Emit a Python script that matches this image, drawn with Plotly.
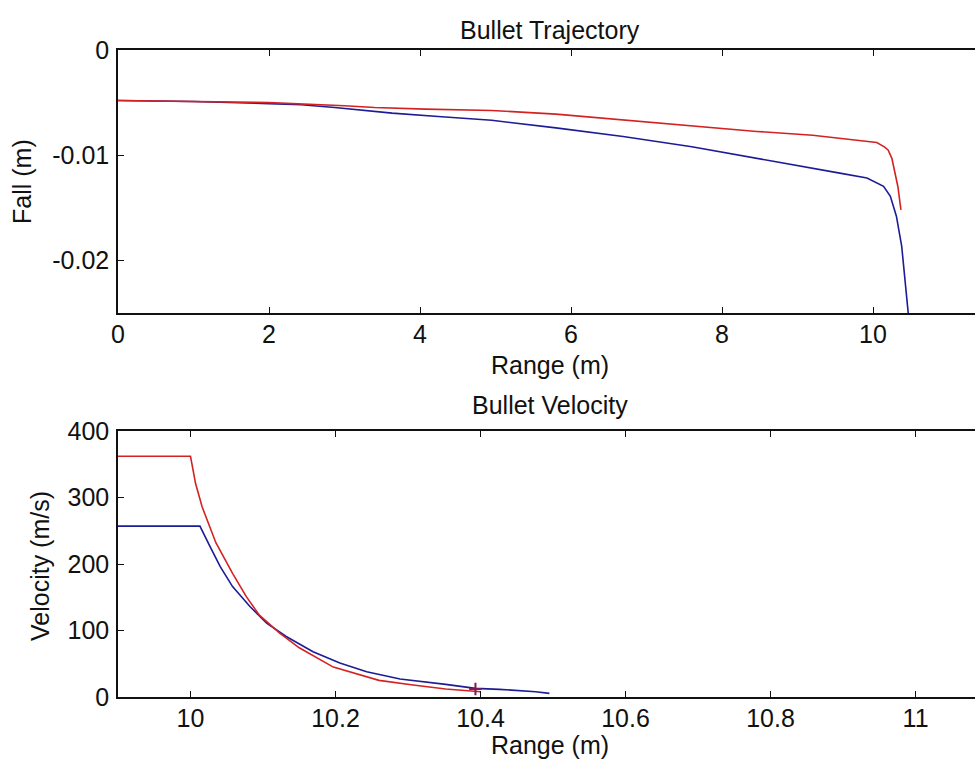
import plotly.graph_objects as go

# ---- Top plot: Bullet Trajectory (Range m vs Fall m) ----
traj_red_x = [0.0, 1.0, 2.0, 3.0, 3.4, 4.07, 4.95, 5.8, 6.69, 7.6, 8.46, 9.2, 9.56, 9.85,
              10.05, 10.15, 10.2, 10.25, 10.29, 10.33, 10.37]
traj_red_y = [-0.0048, -0.0049, -0.0050, -0.0053, -0.00547, -0.00562, -0.00575, -0.0061,
              -0.00664, -0.0072, -0.00774, -0.0081, -0.00837, -0.0086, -0.0088, -0.0092,
              -0.0095, -0.0103, -0.0117, -0.0130, -0.0152]

traj_blue_x = [0.0, 1.0, 2.0, 2.43, 2.87, 3.63, 4.24, 4.95, 5.8, 6.69, 7.6, 8.46, 9.2, 9.56,
               9.92, 10.0, 10.14, 10.23, 10.31, 10.38, 10.42, 10.47, 10.48]
traj_blue_y = [-0.0048, -0.0049, -0.0051, -0.0052, -0.00547, -0.0060, -0.00632, -0.00668,
               -0.0074, -0.00822, -0.0092, -0.01027, -0.0112, -0.0117, -0.01216, -0.01248,
               -0.01296, -0.0139, -0.0158, -0.01864, -0.0218, -0.025, -0.026]

# ---- Bottom plot: Bullet Velocity (Range m vs Velocity m/s) ----
vel_red_x = [9.9, 10.0, 10.007, 10.016, 10.035, 10.058, 10.077, 10.095, 10.123, 10.15,
             10.197, 10.243, 10.26, 10.307, 10.352, 10.40]
vel_red_y = [362, 362, 321, 286, 232, 186, 151, 123, 96, 74, 45, 30, 25, 18, 12, 8]

vel_blue_x = [9.9, 10.013, 10.027, 10.041, 10.058, 10.082, 10.105, 10.132, 10.169, 10.206,
              10.243, 10.289, 10.352, 10.393, 10.426, 10.476, 10.495]
vel_blue_y = [257, 257, 226, 196, 166, 136, 111, 91, 68, 51, 38, 27, 19, 13, 11.5, 8, 5.5]

cursor_x = [10.393]
cursor_y = [12]

# ---- Tick labels ----
top_xticks = [0, 2, 4, 6, 8, 10]
top_xtext = ["0", "2", "4", "6", "8", "10"]
top_yticks = [0, -0.01, -0.02]
top_ytext = ["0", "-0.01", "-0.02"]
bot_xticks = [10, 10.2, 10.4, 10.6, 10.8, 11]
bot_xtext = ["10", "10.2", "10.4", "10.6", "10.8", "11"]
bot_yticks = [0, 100, 200, 300, 400]
bot_ytext = ["0", "100", "200", "300", "400"]

RED = "#d42222"
BLUE = "#1c1c96"
FONT = "Liberation Sans, Arial, sans-serif"
FS = 25

fig = go.Figure()
fig.add_trace(go.Scatter(x=traj_blue_x, y=traj_blue_y, mode="lines",
                         line=dict(color=BLUE, width=1.6), xaxis="x", yaxis="y"))
fig.add_trace(go.Scatter(x=traj_red_x, y=traj_red_y, mode="lines",
                         line=dict(color=RED, width=1.6), xaxis="x", yaxis="y"))
fig.add_trace(go.Scatter(x=vel_blue_x, y=vel_blue_y, mode="lines",
                         line=dict(color=BLUE, width=1.6), xaxis="x2", yaxis="y2"))
fig.add_trace(go.Scatter(x=vel_red_x, y=vel_red_y, mode="lines",
                         line=dict(color=RED, width=1.6), xaxis="x2", yaxis="y2"))
fig.add_trace(go.Scatter(x=cursor_x, y=cursor_y, mode="markers",
                         marker=dict(symbol="cross-thin", size=9,
                                     line=dict(color="#7a1a5a", width=2)),
                         xaxis="x2", yaxis="y2"))

axis_common = dict(showline=True, linecolor="#111", linewidth=1.5, ticks="inside",
                   ticklen=6, tickwidth=1.3, tickcolor="#111", showgrid=False,
                   zeroline=False, tickfont=dict(family=FONT, size=FS, color="#111"))

right_common = dict(showline=False, ticks="inside", ticklen=3, tickwidth=1.5,
                    tickcolor="#222", showticklabels=False, showgrid=False,
                    zeroline=False, side="right")

fig.update_layout(
    width=975, height=765,
    margin=dict(l=118, r=0, t=50, b=68),
    paper_bgcolor="white", plot_bgcolor="white",
    showlegend=False,
    font=dict(family=FONT, size=FS, color="#111"),
    xaxis=dict(domain=[0, 1], anchor="y", range=[0, 11.351], tickvals=top_xticks,
               ticktext=top_xtext, mirror="ticks", ticklabelstandoff=-2, **axis_common),
    yaxis=dict(domain=[0.5935, 1], anchor="x", range=[-0.025, 0], tickvals=top_yticks,
               ticktext=top_ytext, ticklabelstandoff=2, **axis_common),
    xaxis2=dict(domain=[0, 1], anchor="y2", range=[9.9, 11.082], tickvals=bot_xticks,
                ticktext=bot_xtext, mirror="ticks", ticklabelstandoff=-2, **axis_common),
    yaxis2=dict(domain=[0, 0.4111], anchor="x2", range=[0, 400], tickvals=bot_yticks,
                ticktext=bot_ytext, ticklabelstandoff=2, **axis_common),
    yaxis3=dict(overlaying="y", anchor="x", range=[-0.025, 0],
                tickvals=top_yticks[1:], **right_common),
    yaxis4=dict(overlaying="y2", anchor="x2", range=[0, 400],
                tickvals=bot_yticks[1:-1], **right_common),
)

def pxx(px):
    return (px - 118) / 857.0

def pxy(py):
    return (697 - py) / 647.0

labels = [
    ("Bullet Trajectory", 550, 30, 0),
    ("Range (m)", 550, 365, 0),
    ("Bullet Velocity", 550, 405, 0),
    ("Range (m)", 550, 745, 0),
    ("Fall (m)", 22, 182, -90),
    ("Velocity (m/s)", 40, 566, -90),
]
for text, x, y, ang in labels:
    fig.add_annotation(text=text, x=pxx(x), y=pxy(y), xref="paper", yref="paper",
                       xanchor="center", yanchor="middle", showarrow=False,
                       textangle=ang, font=dict(family=FONT, size=FS, color="#111"))

fig.write_html("out.html",
               config={"displayModeBar": False},
               post_script="document.body.style.margin='0';"
                           "document.body.style.overflow='hidden';")
